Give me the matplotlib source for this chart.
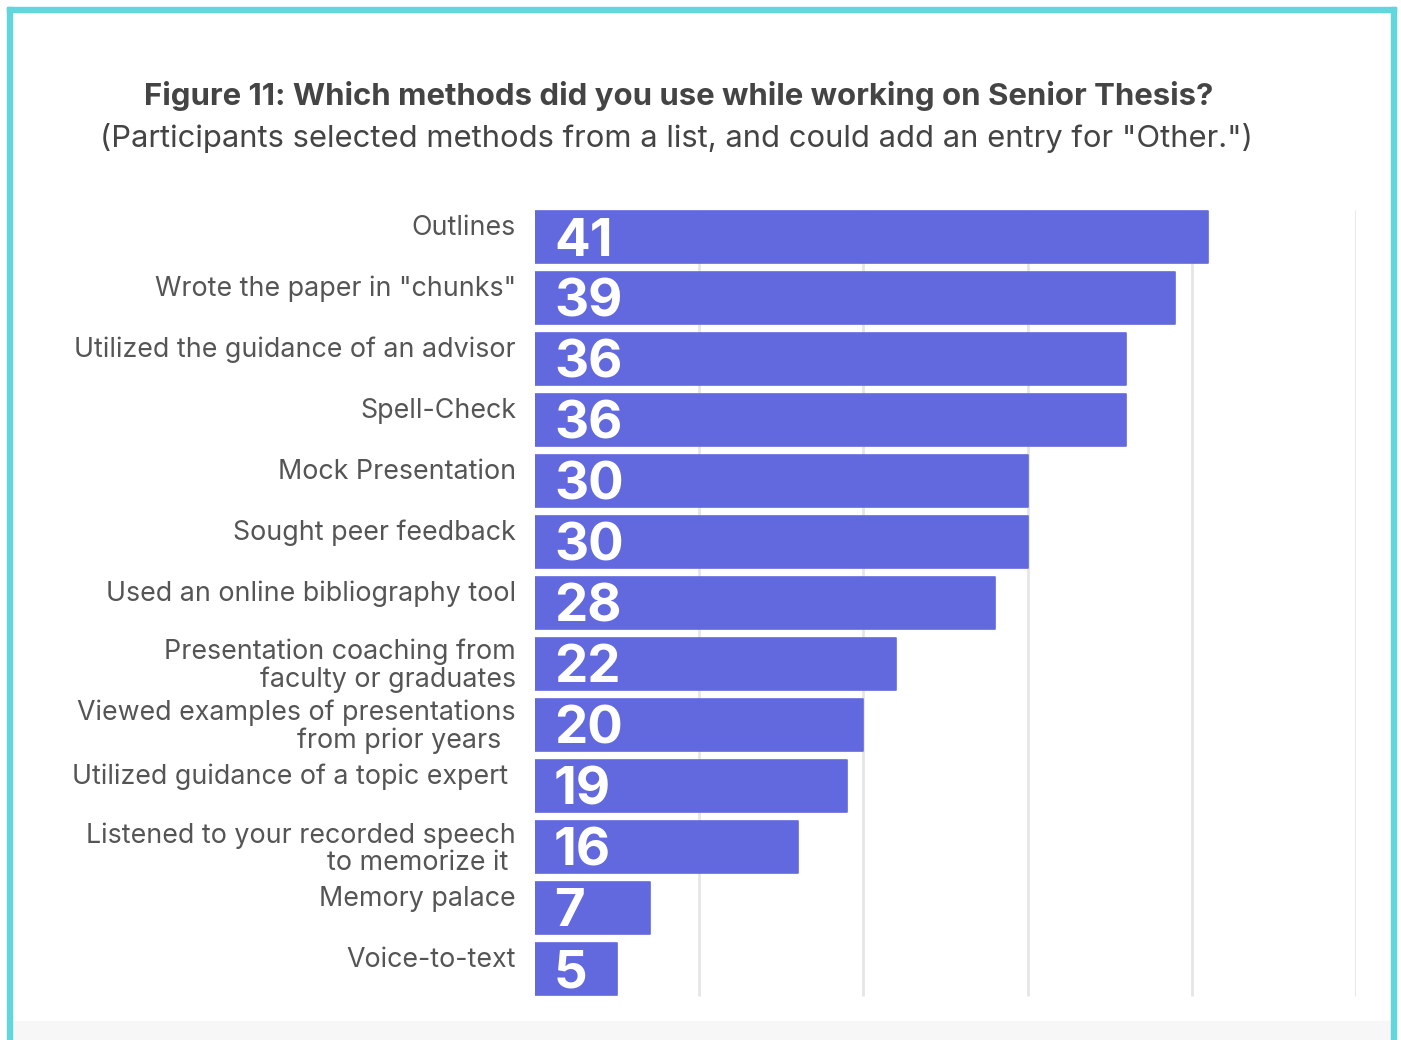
import matplotlib.pyplot as plt
from matplotlib.patches import Rectangle

plt.rcParams['font.family'] = ['Inter', 'DejaVu Sans']

methods = [
    'Outlines',
    'Wrote the paper in "chunks"',
    'Utilized the guidance of an advisor',
    'Spell-Check',
    'Mock Presentation',
    'Sought peer feedback',
    'Used an online bibliography tool',
    'Presentation coaching from\nfaculty or graduates',
    'Viewed examples of presentations\nfrom prior years  ',
    'Utilized guidance of a topic expert ',
    'Listened to your recorded speech\nto memorize it ',
    'Memory palace',
    'Voice-to-text',
]
counts = [41, 39, 36, 36, 30, 30, 28, 22, 20, 19, 16, 7, 5]
grid_ticks = [10, 20, 30, 40, 50]

bar_color = '#6269DF'
text_color = '#555555'

fig = plt.figure(figsize=(14.01, 10.40), dpi=100)

# card frame: cyan border and light footer strip
fig.patches.append(Rectangle((12 / 1401, 0), 1379 / 1401, 19 / 1040,
                             transform=fig.transFigure, color='#f7f7f7', zorder=0))
for x0, y0, w, h in [(7, 7, 5, 1040), (1391, 7, 5, 1040), (7, 7, 1389, 5)]:
    fig.patches.append(Rectangle((x0 / 1401, 1 - (y0 + h) / 1040), w / 1401, h / 1040,
                                 transform=fig.transFigure, color='#62D6DD', zorder=1))

fig.text(679 / 1401, 1 - 96 / 1040,
         'Figure 11: Which methods did you use while working on Senior Thesis?',
         ha='center', va='center', fontsize=22.4, fontweight='bold', color='#444444')
fig.text(676 / 1401, 1 - 138 / 1040,
         '(Participants selected methods from a list, and could add an entry for "Other.")',
         ha='center', va='center', fontsize=22.3, color='#444444')

ax = fig.add_axes([535 / 1401, 1 - 999.5 / 1040, 821 / 1401, 793 / 1040])
ypos = list(range(len(methods)))
bar_h = 0.85

ax.vlines(grid_ticks, -0.44, len(methods) - 1 + 0.44,
          color='#e6e6e6', linewidth=2, zorder=0)
ax.barh(ypos, counts, height=bar_h, color=bar_color, edgecolor=bar_color,
        linewidth=1.2, joinstyle='round', zorder=2)

for y, label, n in zip(ypos, methods, counts):
    dy = -2 if '\n' in label else 9
    ax.annotate(label, xy=(0, y), xytext=(-19, dy), textcoords='offset pixels',
                ha='right', va='center', multialignment='right',
                fontsize=19.3, color=text_color, linespacing=1.05)
    ax.annotate(str(n), xy=(0, y), xytext=(19, -5), textcoords='offset pixels',
                ha='left', va='center', fontsize=38, fontweight='bold',
                color='white', zorder=3)

ax.set_xlim(0, 50)
ax.set_ylim(len(methods) - 0.5, -0.5)
ax.axis('off')

fig.savefig('out.png', dpi=100)
